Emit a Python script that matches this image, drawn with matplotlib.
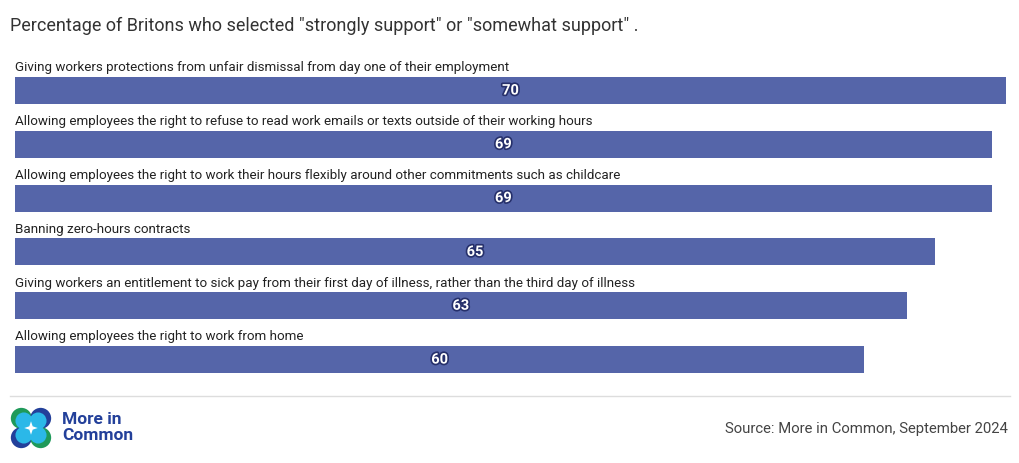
import matplotlib
matplotlib.use("Agg")
import matplotlib.pyplot as plt
import matplotlib.patheffects as pe
from matplotlib.patches import Circle, Polygon

plt.rcParams['font.family'] = ['Roboto', 'DejaVu Sans']

# data
categories = [
    "Giving workers protections from unfair dismissal from day one of their employment",
    "Allowing employees the right to refuse to read work emails or texts outside of their working hours",
    "Allowing employees the right to work their hours flexibly around other commitments such as childcare",
    "Banning zero-hours contracts",
    "Giving workers an entitlement to sick pay from their first day of illness, rather than the third day of illness",
    "Allowing employees the right to work from home",
]
values = [70, 69, 69, 65, 63, 60]

title = 'Percentage of Britons who selected "strongly support" or "somewhat support" .'
source = "Source: More in Common, September 2024"

bar_color = "#5565a9"
W, H = 1020, 463

fig = plt.figure(figsize=(W / 100, H / 100), dpi=100)
fig.patch.set_facecolor("white")

# main bar axes
ax = fig.add_axes([15 / W, 1 - 390 / H, (1006 - 15) / W, 340 / H])
ax.set_xlim(0, 70)
ax.set_ylim(5.566, -0.753)
ax.axis('off')

ypos = list(range(len(values)))
ax.barh(ypos, values, height=0.5, color=bar_color, align='center')

for y, v, c in zip(ypos, values, categories):
    ax.text(0, y - 0.25 - 0.05, c, ha='left', va='bottom', fontsize=9.65, color="#222222")
    ax.text(v / 2, y, str(v), ha='center', va='center', fontsize=10.5, fontweight='bold',
            color='white',
            path_effects=[pe.withStroke(linewidth=2.4, foreground="#26306b")])

# title
fig.text(10 / W, 1 - 26 / H, title, ha='left', va='center', fontsize=12.95, color="#333333")

# divider line
fig.add_artist(plt.Line2D([10 / W, 1010 / W], [1 - 396 / H, 1 - 396 / H],
                          color="#dddddd", linewidth=1))

# source
fig.text(1008 / W, 1 - 429 / H, source, ha='right', va='center', fontsize=10.75, color="#444444")

# logo
lax = fig.add_axes([10 / W, 1 - 449 / H, 42 / W, 42 / H])
lax.set_xlim(0, 1)
lax.set_ylim(0, 1)
lax.set_aspect('equal')
lax.axis('off')
green = "#1f9a5a"
navy = "#23409a"
cyan = "#2bb8e8"
outer = [((0.27, 0.73), green), ((0.73, 0.73), navy), ((0.27, 0.27), navy), ((0.73, 0.27), green)]
for (cx, cy), col in outer:
    lax.add_patch(Circle((cx, cy), 0.25, color=col, lw=0))
for (cx, cy), col in outer:
    dx = 0.06 if cx < 0.5 else -0.06
    dy = 0.06 if cy < 0.5 else -0.06
    lax.add_patch(Circle((cx + dx, cy + dy), 0.2, color=cyan, lw=0))
lax.add_patch(Polygon([(0.5, 0.66), (0.54, 0.54), (0.66, 0.5), (0.54, 0.46),
                       (0.5, 0.34), (0.46, 0.46), (0.34, 0.5), (0.46, 0.54)],
                      closed=True, color='white', lw=0))

fig.text(62 / W, 1 - 419 / H, "More in", ha='left', va='center', fontsize=12.5,
         fontweight='bold', color="#23409a")
fig.text(62 / W, 1 - 436 / H, "Common", ha='left', va='center', fontsize=12.5,
         fontweight='bold', color="#23409a")

fig.savefig("out.png", dpi=100, facecolor="white")
